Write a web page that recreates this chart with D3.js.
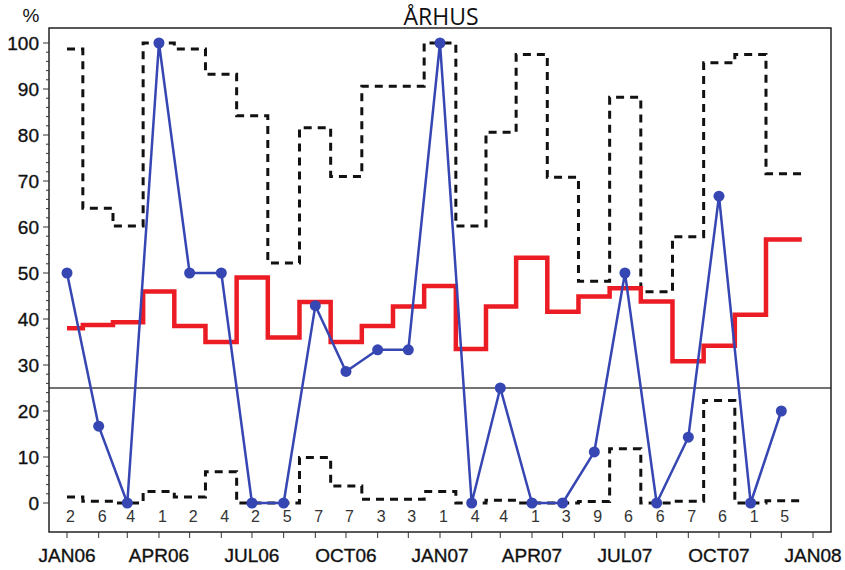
<!DOCTYPE html>
<html><head><meta charset="utf-8">
<script src="https://cdn.jsdelivr.net/npm/d3@7"></script>
<style>
html,body{margin:0;padding:0;background:#fff;}
svg{display:block;font-family:"Liberation Sans",Arial,sans-serif;}
</style></head>
<body><svg id="c" width="845" height="570"></svg>
<script>
const title = "ÅRHUS";
const months = ["2006-01-01","2006-02-01","2006-03-01","2006-04-01","2006-05-01","2006-06-01",
  "2006-07-01","2006-08-01","2006-09-01","2006-10-01","2006-11-01","2006-12-01",
  "2007-01-01","2007-02-01","2007-03-01","2007-04-01","2007-05-01","2007-06-01",
  "2007-07-01","2007-08-01","2007-09-01","2007-10-01","2007-11-01","2007-12-01"];
const counts = [2,6,4,1,2,4,2,5,7,7,3,3,1,4,4,1,3,9,6,6,7,6,1,5];
const observed = [50,16.7,0,100,50,50,0,0,42.9,28.6,33.3,33.3,100,0,25,0,0,11.1,50,0,14.3,66.7,0,20];
const expected = [38,38.7,39.3,46,38.5,35,49,36,43.7,35,38.5,42.7,47.2,33.5,42.7,53.3,41.6,44.9,46.7,43.8,30.8,34.2,40.9,57.3];
const upper = [98.7,64.1,60.2,100,98.7,93.2,84.2,52.2,81.6,71,90.6,90.6,100,60.2,80.6,97.5,70.8,48.2,88.2,45.9,57.9,95.7,97.5,71.6];
const lower = [1.3,0.4,0,2.5,1.3,6.8,0,0,9.9,3.7,0.8,0.8,2.5,0,0.6,0,0,0.3,11.8,0,0.4,22.3,0,0.5];
const refLevel = 25;
const yTicks = [0,10,20,30,40,50,60,70,80,90,100];
const xTickLabels = ["JAN06","APR06","JUL06","OCT06","JAN07","APR07","JUL07","OCT07","JAN08"];
const xDomain = ["2006-01-01","2008-01-01"];
const stepEnd = "2007-12-21";

const parse = d3.utcParse("%Y-%m-%d");
const dates = months.map(parse);
const svg = d3.select("#c");
const frame = {l:49, r:831, t:28, b:532};
const x = d3.scaleUtc().domain(xDomain.map(parse)).range([67, 813]);
const y = d3.scaleLinear().domain([0,100]).range([503, 43]);

// title
svg.append("text").attr("x", 441).attr("y", 25).attr("text-anchor","middle")
  .style("font-family","'Open Sans',sans-serif").style("font-size","23px").attr("fill","#111").text(title);
svg.append("text").attr("x", 31).attr("y", 22).attr("text-anchor","middle")
  .style("font-size","19px").attr("fill","#111").text("%");

// reference line
svg.append("line").attr("x1",frame.l).attr("x2",frame.r).attr("y1",y(refLevel)).attr("y2",y(refLevel))
  .attr("stroke","#444").attr("stroke-width",1.3);

// step series
function stepPath(vals){
  const pts = dates.map((d,i)=>[x(d), y(vals[i])]);
  pts.push([x(parse(stepEnd)), y(vals[vals.length-1])]);
  return d3.line().curve(d3.curveStep)(pts);
}
svg.append("path").attr("d", stepPath(upper)).attr("fill","none").attr("stroke","#111")
  .attr("stroke-width",3).attr("stroke-dasharray","8,6");
svg.append("path").attr("d", stepPath(lower)).attr("fill","none").attr("stroke","#111")
  .attr("stroke-width",3).attr("stroke-dasharray","8,6");
svg.append("path").attr("d", stepPath(expected)).attr("fill","none").attr("stroke","#ec1c24")
  .attr("stroke-width",4.5);

// observed
const blue = "#3646b2";
svg.append("path").attr("d", d3.line().x((d,i)=>x(dates[i])).y(d=>y(d))(observed))
  .attr("fill","none").attr("stroke",blue).attr("stroke-width",2.5).attr("stroke-linejoin","round");
svg.selectAll("circle.o").data(observed).join("circle").attr("class","o")
  .attr("cx",(d,i)=>x(dates[i])).attr("cy",d=>y(d)).attr("r",5.5).attr("fill",blue);

// counts row
svg.selectAll("text.n").data(counts).join("text").attr("class","n")
  .attr("x",(d,i)=>x(dates[i])+3.5).attr("y",522).attr("text-anchor","middle")
  .style("font-size","16px").attr("fill","#333").text(d=>d);

// frame
svg.append("rect").attr("x",frame.l).attr("y",frame.t).attr("width",frame.r-frame.l).attr("height",frame.b-frame.t)
  .attr("fill","none").attr("stroke","#222").attr("stroke-width",1.5);

// y axis
const yMinor = d3.range(0,101,2);
svg.selectAll("line.ym").data(yMinor).join("line").attr("class","ym")
  .attr("x1",frame.l).attr("x2",d=>d%10===0?frame.l-6:frame.l-3)
  .attr("y1",d=>y(d)).attr("y2",d=>y(d)).attr("stroke","#333").attr("stroke-width",1);
svg.selectAll("text.yl").data(yTicks).join("text").attr("class","yl")
  .attr("x",39).attr("y",d=>y(d)).attr("dy","0.36em").attr("text-anchor","end")
  .style("font-size","19px").attr("fill","#111").attr("stroke","#111").attr("stroke-width",0.35).text(d=>d);

// x axis
const xAllTicks = d3.utcMonth.range(parse(xDomain[0]), d3.utcDay.offset(parse(xDomain[1]),1));
svg.selectAll("line.xm").data(xAllTicks).join("line").attr("class","xm")
  .attr("x1",d=>x(d)).attr("x2",d=>x(d)).attr("y1",frame.b).attr("y2",frame.b+6)
  .attr("stroke","#333").attr("stroke-width",1);
const xQuarter = d3.utcMonth.every(3).range(parse(xDomain[0]), d3.utcDay.offset(parse(xDomain[1]),1));
svg.selectAll("text.xl").data(xQuarter).join("text").attr("class","xl")
  .attr("x",d=>x(d)).attr("y",562).attr("text-anchor","middle")
  .style("font-size","19px").attr("fill","#111").attr("stroke","#111").attr("stroke-width",0.35).text((d,i)=>xTickLabels[i]);
</script></body></html>
